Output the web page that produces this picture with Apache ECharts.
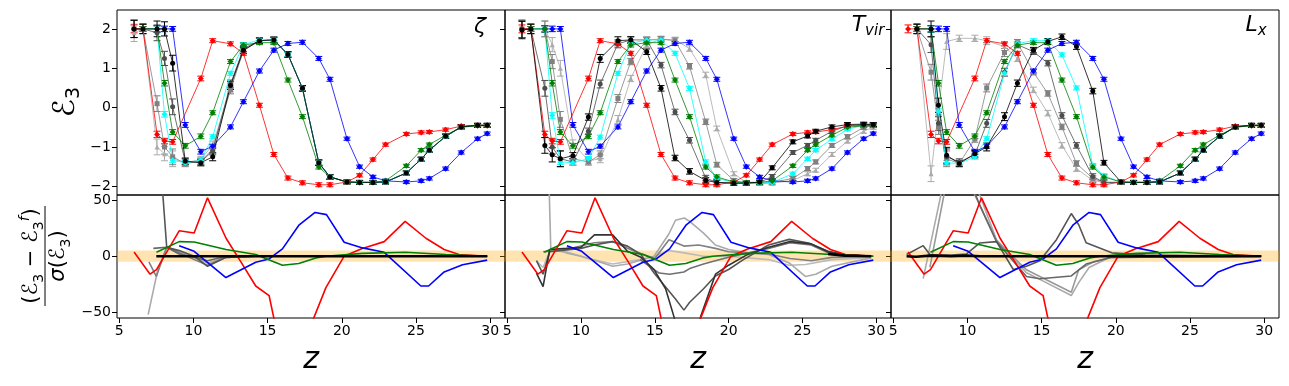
<!DOCTYPE html>
<html>
<head>
<meta charset="utf-8">
<script src="https://cdn.jsdelivr.net/npm/echarts@6/dist/echarts.min.js"></script>
<style>
html,body{margin:0;padding:0;background:#fff}
#chart{width:1289px;height:386px}
</style>
</head>
<body>
<div id="chart"></div>
<script>
// redshift grid of the top panels
var Z = [6.0, 6.6, 7.55, 8.05, 8.6, 9.45, 10.5, 11.3, 12.5, 13.37, 14.45, 15.42, 16.37, 17.35,
         18.45, 19.2, 20.35, 21.2, 22.1, 22.95, 24.35, 25.35, 25.9, 27.0, 28.05, 29.15, 29.8];

var X_TICKS = [5, 10, 15, 20, 25, 30];
var TOP_TICKS = [-2, -1, 0, 1, 2];
var BOT_TICKS = [-50, 0, 50];
var BAND = [-5, 5];

// error bars
var ERR_C = [0.1, 0.06, 0.08, 0.07, 0.06, 0.06, 0.06, 0.05, 0.05, 0.05, 0.05, 0.05, 0.05, 0.05,
             0.05, 0.05, 0.04, 0.04, 0.04, 0.04, 0.04, 0.04, 0.04, 0.04, 0.04, 0.04, 0.04];
var ERR_G = [0.22, 0.12, 0.2, 0.18, 0.2, 0.08, 0.08, 0.1, 0.1, 0.08, 0.07, 0.07, 0.07, 0.07,
             0.07, 0.06, 0.05, 0.05, 0.05, 0.05, 0.05, 0.05, 0.05, 0.05, 0.05, 0.05, 0.05];

// curves shared by the three panels
var RED = [2, 2, -0.68, -0.85, -0.87, null, 0.74, 1.7, 1.62, 1.38, 0.06, -1.19, -1.79, -1.91,
           -1.96, -1.96, -1.89, -1.72, -1.32, -0.94, -0.67, -0.63, -0.62, -0.56, -0.47, -0.45, -0.45];
var BLUE = [null, null, 2, 2, 2, -0.44, -1.12, -0.98, -0.49, 0.15, 0.93, 1.46, 1.63, 1.66,
            1.25, 0.72, -0.79, -1.5, -1.76, -1.86, -1.89, -1.86, -1.8, -1.55, -1.14, -0.79, -0.66];
var GREEN = [null, 2, 2, 0.62, -0.62, -0.97, -0.73, -0.13, 1.17, 1.59, 1.65, 1.65, 0.7, -0.23,
             -1.51, -1.76, -1.89, -1.9, -1.9, -1.86, -1.48, -1.08, -0.94, -0.7, -0.5, -0.46, -0.46];

// zeta panel
var BLACK1 = [2, 2, 2, 2, 1.13, -1.36, -1.4, -1.25, 0.56, 1.46, 1.7, 1.72, 1.35, 0.49,
              -1.4, -1.76, -1.89, -1.9, -1.9, -1.89, -1.66, -1.31, -1.08, -0.73, -0.49, -0.45, -0.45];
var CYAN1 = [null, 2, 2, -0.17, -1.34, -1.4, -1.34, -0.74, 0.87, 1.6, 1.72, 1.72, 1.35, 0.49,
             -1.4, -1.76, -1.89, -1.9, -1.9, -1.89, -1.66, -1.31, -1.08, -0.73, -0.49, -0.45, -0.45];
var DIM1 = [2, 2, 1.9, 1.25, 0.02, -1.38, -1.38, -1.1, 0.6, 1.5, 1.7, 1.72, 1.35, 0.49,
            -1.4, -1.76, -1.89, -1.9, -1.9, -1.89, -1.66, -1.31, -1.08, -0.73, -0.49, -0.45, -0.45];
var GRAY1 = [2, 2, 0.1, -1.0, -1.25, -1.42, -1.36, -1.05, 0.45, 1.45, 1.7, 1.72, 1.35, 0.49,
             -1.4, -1.76, -1.89, -1.9, -1.9, -1.89, -1.66, -1.31, -1.08, -0.73, -0.49, -0.45, -0.45];
var LIGHT1 = [1.9, 2, -1.0, -1.17, -1.3, -1.4, -1.32, -0.95, 0.5, 1.45, 1.7, 1.72, 1.35, 0.49,
              -1.4, -1.76, -1.89, -1.9, -1.9, -1.89, -1.66, -1.31, -1.08, -0.73, -0.49, -0.45, -0.45];

// T_vir panel
var BLACK2 = [1.97, 2, -0.96, -1.2, -1.3, -1.22, -0.24, 1.25, 1.7, 1.72, 1.42, 0.49, -1.28, -1.62,
              -1.85, -1.9, -1.92, -1.92, -1.89, -1.53, -0.87, -0.72, -0.6, -0.49, -0.43, -0.42, -0.43];
var DIM2 = [2, 2, 0.49, -1.0, -1.3, -1.38, -0.6, 0.6, 1.62, 1.72, 1.72, 1.08, -0.11, -0.83,
            -1.79, -1.9, -1.92, -1.92, -1.9, -1.75, -1.14, -0.96, -0.83, -0.6, -0.46, -0.43, -0.43];
var CYAN2 = [null, 2, 2, -0.2, -1.38, -1.4, -1.3, -0.75, 0.87, 1.63, 1.72, 1.72, 1.38, 0.49,
             -1.38, -1.8, -1.9, -1.92, -1.92, -1.9, -1.68, -1.3, -1.08, -0.8, -0.55, -0.45, -0.44];
var GRAY2 = [2, 2, 2, 1.17, -0.3, -1.3, -1.38, -1.2, 0.23, 1.17, 1.72, 1.74, 1.7, 1.05,
             -0.36, -1.45, -1.85, -1.92, -1.92, -1.9, -1.8, -1.55, -1.38, -0.96, -0.74, -0.5, -0.45];
var LIGHT2 = [2, 2, 2, 1.6, 1.0, -0.9, -1.35, -1.3, -0.3, 0.74, 1.6, 1.74, 1.72, 1.5,
              0.83, -0.53, -1.68, -1.9, -1.92, -1.92, -1.85, -1.68, -1.59, -1.19, -0.85, -0.6, -0.5];

// L_x panel
var BLACK3 = [null, 2, 2, 0.06, -1.21, -1.42, -1.17, -1.0, -0.23, 0.62, 1.46, 1.68, 1.8, 1.55,
              0.42, -1.4, -1.89, -1.9, -1.9, -1.89, -1.66, -1.31, -1.08, -0.73, -0.49, -0.45, -0.45];
var CYAN3 = [null, null, 2, -0.1, -1.4, -1.42, -1.25, -0.79, 0.87, 1.63, 1.7, 1.7, 1.34, 0.5,
             -1.47, -1.73, -1.89, -1.9, -1.9, -1.89, -1.66, -1.31, -1.08, -0.73, -0.49, -0.45, -0.45];
var LIGHT3 = [null, 2, -1.68, -0.06, 1.68, 1.76, 1.76, 1.7, 1.55, 1.25, 0.45, -0.14, -0.96, -1.55,
              -1.85, -1.9, -1.9, -1.9, -1.9, -1.89, -1.66, -1.31, -1.08, -0.73, -0.49, -0.45, -0.45];
var GRAY3 = [null, 2, 0.9, -0.5, -1.3, -1.42, -0.8, 0.5, 1.4, 1.65, 0.9, 0.36, -0.49, -1.42,
             -1.8, -1.9, -1.9, -1.9, -1.9, -1.89, -1.66, -1.31, -1.08, -0.73, -0.49, -0.45, -0.45];
var DIM3 = [null, 2, 1.6, -0.4, -1.25, -1.38, -1.2, -0.4, 0.9, 1.6, 1.42, 1.13, -0.2, -0.96,
            -1.75, -1.9, -1.9, -1.9, -1.9, -1.89, -1.66, -1.31, -1.08, -0.73, -0.49, -0.45, -0.45];

// residuals [z, value], lower panels
var RES_RED = [[6.0,3.8],[7.08,-16],[7.51,-12],[9.04,22.6],[10.05,20.6],[10.95,52],[12.2,16],[13.2,-5],
               [14.2,-26.5],[15.1,-35],[15.5,-60],[16.4,-95],[17.35,-85],[18.14,-54],[18.93,-28],[20.16,0],
               [21.29,6.5],[22.86,13],[24.27,31],[25.67,16],[26.9,6],[27.9,1.5],[29.8,0]];
var RES_BLUE = [[9.04,9.4],[10.05,4.4],[12.19,-19],[14.2,-5.3],[15.1,-2.4],[16.0,6.5],[17.13,28],[18.2,39],
                [18.97,37],[20.16,12.4],[21.4,7.4],[22.86,3.5],[25.33,-26.5],[25.85,-26.5],[26.9,-14],
                [28.14,-7.6],[29.8,-3.5]];
var RES_GREEN = [[7.51,3.5],[9.04,13],[10.05,12.6],[12.2,6],[14.2,1.5],[16.0,-8],[17.1,-6.5],[18.25,-1.5],
                 [18.93,0],[21.4,2.5],[24.3,3.5],[27.0,1.5],[29.8,0]];

var RES1_BLACK = [[7.5,0],[29.8,0]];
var RES1_DIM = [[7.8,80],[8.2,8],[9.04,5],[10.05,0],[10.95,-9],[12.2,-1],[14.2,0],[29.8,0]];
var RES1_LIGHT = [[6.95,-52],[7.6,-12],[8.2,8],[9.04,4],[10.05,-1],[10.95,-6],[12.2,-1],[14.2,0],[29.8,0]];
var RES1_GRAY = [[7.0,-5],[7.5,-18],[8.2,8],[9.04,3],[10.05,-3],[10.95,-8],[12.2,-1],[14.2,0],[29.8,0]];
var RES1_DARK = [[7.3,7],[8.2,8],[9.04,2],[10.05,-1],[10.95,-4],[12.2,0],[29.8,0]];

var RES2_BLACK = [[26.74,2],[27.87,0.5],[29.66,0]];
var RES2_DARK = [[6.98,-15],[7.43,-27],[7.88,6],[9.0,7],[10.0,8],[10.91,19],[12.14,19],[13.15,4.4],[14.06,-1],
                 [14.95,-12],[15.73,-29],[16.3,-54],[16.8,-80],[17.6,-80],[18.1,-54],[19.11,-16],[20.0,-8],
                 [21.2,1],[22.7,8],[24.16,13],[25.6,11],[26.74,4],[27.87,1],[29.66,0]];
var RES2_DIM = [[6.98,-4],[7.43,-16],[7.88,4],[10.0,7],[10.9,10],[12.14,13],[13.15,9],[14.06,1.5],[14.95,-15],
                [16.4,-38],[16.97,-48],[17.36,-41],[18.3,-29],[19.1,-17.6],[20.0,-11.8],[21.0,-3],[22.7,10],
                [24.1,15],[25.4,11.8],[26.74,4.4],[27.87,1.5],[29.66,0]];
var RES2_GRAY = [[7.43,4],[9.0,6],[10.9,12],[12.14,13],[13.5,5],[15.0,-2],[15.96,14.7],[16.97,9],[17.98,10],
                 [19.1,7],[20.0,4],[22.7,2],[24.16,-2],[25.6,-4],[27.0,-1],[29.66,0]];
var RES2_MID = [[14.0,-3],[14.95,-12],[15.3,-15],[16.0,-16],[16.97,-14],[17.36,-11],[18.3,-7],[19.1,-4],
                [20.0,-1],[22.7,7],[24.16,12],[25.6,10],[26.74,3],[27.87,1],[29.66,0]];
var RES2_LIGHT = [[7.8,80],[7.95,7],[9.0,3],[10.0,0],[11.0,-4],[12.14,-9],[13.15,-7],[14.95,0],[15.96,20],
                  [16.4,32],[17.0,34],[17.36,31],[18.3,20.6],[19.1,10],[20.0,6],[21.3,3],[22.7,1.5],
                  [24.1,-6],[25.2,-18],[25.9,-16],[27.0,-9],[29.66,-1.5]];
var RES2_PALE = [[6.98,-4],[7.43,-10],[7.9,5],[9.0,4],[10.5,-2],[12.14,-7],[14.0,-3],[15.0,0],[16.0,5],
                 [17.0,3],[18.3,0],[20.0,0],[22.7,-3],[24.1,-8],[25.2,-7.4],[27.0,-3],[29.66,-1]];

var RES3_BLACK = [[5.9,0],[6.55,-0.5],[7.47,0.5],[8.93,0],[9.94,0.5],[10.84,0],[29.8,0]];
var RES3_DIM = [[5.9,1.5],[7.02,9.4],[7.47,1.5],[8.93,1],[9.94,2],[10.84,11.8],[11.96,13],[13.09,-11.8],
                [13.98,-9],[14.88,-4],[16.0,14.7],[17.0,38],[17.5,28],[18.0,12],[19.73,3],[22.0,1],[29.8,0]];
var RES3_LIGHT = [[7.02,-20],[8.14,50],[8.6,80],[10.0,80],[10.84,54],[11.96,14.7],[13.98,-14.7],[14.88,-20.6],
                  [17.0,-35],[17.5,-23.5],[18.2,-10],[19.73,0],[29.8,0]];
var RES3_GRAY = [[7.47,-10],[8.5,60],[9.5,80],[10.84,45.6],[11.96,14],[13.98,-12],[14.88,-18],[17.0,-32],
                 [17.5,-12],[18.5,-5],[19.73,-1],[29.8,0]];
var RES3_DARK = [[10.4,60],[10.84,45],[11.96,13],[13.98,-18],[14.88,-20],[17.0,-17.6],[18.0,-7],[19.73,-1],[29.8,0]];

var FONT = 'DejaVu Sans';
var XMIN = 4.85, XMAX = 31.0;
var COLS = [[117, 388], [505, 386], [891, 388]];

var myChart = echarts.init(document.getElementById('chart'));

function minus(v) { return v < 0 ? '\u2212' + (-v) : '' + v; }

function errRender(color) {
    return function (params, api) {
        var x = api.value(0), y = api.value(1), e = api.value(2);
        var a = api.coord([x, y + e]), b = api.coord([x, y - e]);
        var w = 3.5, st = {stroke: color, lineWidth: 1};
        return {type: 'group', children: [
            {type: 'line', shape: {x1: a[0], y1: a[1], x2: b[0], y2: b[1]}, style: st},
            {type: 'line', shape: {x1: a[0] - w, y1: a[1], x2: a[0] + w, y2: a[1]}, style: st},
            {type: 'line', shape: {x1: b[0] - w, y1: b[1], x2: b[0] + w, y2: b[1]}, style: st}
        ]};
    };
}

var grid = [], xAxis = [], yAxis = [], series = [];
for (var c = 0; c < 3; c++) {
    grid.push({left: COLS[c][0], width: COLS[c][1], top: 10, height: 185, show: true,
               borderColor: '#000', borderWidth: 1, backgroundColor: 'transparent'});
}
for (var c = 0; c < 3; c++) {
    grid.push({left: COLS[c][0], width: COLS[c][1], top: 195, height: 123, show: true,
               borderColor: '#000', borderWidth: 1, backgroundColor: 'transparent'});
}
for (var i = 0; i < 6; i++) {
    var bottom = i >= 3;
    xAxis.push({type: 'value', gridIndex: i, min: XMIN, max: XMAX, position: 'bottom',
        axisLine: {show: false, onZero: false}, splitLine: {show: false},
        axisTick: {show: bottom, customValues: X_TICKS, length: 5, lineStyle: {color: '#000'}},
        axisLabel: {show: bottom, customValues: X_TICKS, color: '#000', fontSize: 14,
                    fontFamily: FONT, margin: 6}});
    yAxis.push({type: 'value', gridIndex: i, position: 'left',
        min: bottom ? -55 : -2.22, max: bottom ? 54.5 : 2.48,
        axisLine: {show: false, onZero: false}, splitLine: {show: false},
        axisTick: {show: true, customValues: bottom ? BOT_TICKS : TOP_TICKS, length: 5,
                   lineStyle: {color: '#000'}},
        axisLabel: {show: i % 3 === 0, customValues: bottom ? BOT_TICKS : TOP_TICKS,
                    color: '#000', fontSize: 14, fontFamily: FONT, margin: 6, formatter: minus}});
}

function addCurve(gi, vals, color, sym, size, errs, lw) {
    var pts = [], bars = [];
    for (var k = 0; k < Z.length; k++) {
        if (vals[k] === null) continue;
        pts.push([Z[k], vals[k]]);
        bars.push([Z[k], vals[k], errs[k]]);
    }
    series.push({type: 'custom', xAxisIndex: gi, yAxisIndex: gi, clip: true, silent: true,
                 encode: {x: 0, y: 1}, data: bars, renderItem: errRender(color)});
    series.push({type: 'line', xAxisIndex: gi, yAxisIndex: gi, data: pts, symbol: sym,
                 symbolSize: size, showSymbol: true, silent: true,
                 lineStyle: {color: color, width: lw || 0.8}, itemStyle: {color: color}});
}

function addRes(gi, pts, color, lw) {
    series.push({type: 'line', xAxisIndex: gi, yAxisIndex: gi, data: pts, showSymbol: false,
                 silent: true, clip: true, lineStyle: {color: color, width: lw || 1.6}});
}

// top panels
var tops = [
    [[LIGHT1, '#aaaaaa', 'triangle'], [GRAY1, '#808080', 'rect'], [DIM1, '#4d4d4d', 'circle'],
     [CYAN1, '#00ffff', 'diamond'], [RED, '#ff0000', 'diamond'], [BLUE, '#0000ff', 'diamond'],
     [GREEN, '#008000', 'diamond'], [BLACK1, '#000000', 'circle']],
    [[LIGHT2, '#aaaaaa', 'triangle'], [GRAY2, '#808080', 'rect'], [DIM2, '#4d4d4d', 'circle'],
     [CYAN2, '#00ffff', 'diamond'], [RED, '#ff0000', 'diamond'], [BLUE, '#0000ff', 'diamond'],
     [GREEN, '#008000', 'diamond'], [BLACK2, '#000000', 'circle']],
    [[LIGHT3, '#aaaaaa', 'triangle'], [GRAY3, '#808080', 'rect'], [DIM3, '#4d4d4d', 'circle'],
     [CYAN3, '#00ffff', 'diamond'], [RED, '#ff0000', 'diamond'], [BLUE, '#0000ff', 'diamond'],
     [GREEN, '#008000', 'diamond'], [BLACK3, '#000000', 'circle']]
];
for (var p = 0; p < 3; p++) {
    tops[p].forEach(function (cv) {
        var grey = cv[2] !== 'diamond';
        addCurve(p, cv[0], cv[1], cv[2], grey ? 5 : 6, grey ? ERR_G : ERR_C);
    });
}

// lower panels: band first
for (var p = 3; p < 6; p++) {
    series.push({type: 'line', xAxisIndex: p, yAxisIndex: p, data: [], showSymbol: false,
                 silent: true, z: 1,
                 markArea: {silent: true, itemStyle: {color: 'rgba(255,165,0,0.3)', borderWidth: 0},
                            data: [[{yAxis: BAND[0]}, {yAxis: BAND[1]}]]}});
}
var bots = [
    [[RES1_LIGHT, '#aaaaaa'], [RES1_GRAY, '#808080'], [RES1_DARK, '#666666'], [RES1_DIM, '#555555']],
    [[RES2_PALE, '#bbbbbb'], [RES2_LIGHT, '#aaaaaa'], [RES2_GRAY, '#808080'], [RES2_MID, '#707070'],
     [RES2_DIM, '#555555'], [RES2_DARK, '#333333']],
    [[RES3_LIGHT, '#aaaaaa'], [RES3_GRAY, '#999999'], [RES3_DARK, '#666666'], [RES3_DIM, '#555555']]
];
var blacks = [RES1_BLACK, RES2_BLACK, RES3_BLACK];
for (var p = 0; p < 3; p++) {
    bots[p].forEach(function (r) { addRes(p + 3, r[0], r[1]); });
    addRes(p + 3, RES_RED, '#ff0000');
    addRes(p + 3, RES_BLUE, '#0000ff');
    addRes(p + 3, RES_GREEN, '#008000');
    addRes(p + 3, blacks[p], '#000000', 2.6);
}

var graphic = [
    {type: 'text', x: 66, y: 102, rotation: Math.PI / 2,
     style: {text: '{e|\u2130}{s|3}', align: 'center', verticalAlign: 'middle',
             rich: {e: {fontSize: 30, fontFamily: FONT, fill: '#000', lineHeight: 36, verticalAlign: 'middle'},
                    s: {fontSize: 19, fontFamily: FONT, fill: '#000', lineHeight: 36, verticalAlign: 'bottom'}}}},
    {type: 'group', x: 45, y: 256, rotation: Math.PI / 2, children: [
        {type: 'text', x: 0, y: -13,
         style: {text: '{t|(\u2130}{s|3}{t| \u2212 \u2130}{s|3}{u|f}{t|)}', align: 'center', verticalAlign: 'middle',
                 rich: {t: {fontSize: 21, fontFamily: FONT, fill: '#000', lineHeight: 28},
                        s: {fontSize: 14, fontFamily: FONT, fill: '#000', lineHeight: 28, verticalAlign: 'bottom'},
                        u: {fontSize: 14, fontFamily: FONT, fontStyle: 'italic', fill: '#000', lineHeight: 28, verticalAlign: 'top'}}}},
        {type: 'line', shape: {x1: -50, y1: 0, x2: 50, y2: 0}, style: {stroke: '#000', lineWidth: 1}},
        {type: 'text', x: 0, y: 14,
         style: {text: '{i|\u03c3}{t|(\u2130}{s|3}{t|)}', align: 'center', verticalAlign: 'middle',
                 rich: {t: {fontSize: 21, fontFamily: FONT, fill: '#000', lineHeight: 28},
                        i: {fontSize: 21, fontFamily: FONT, fontStyle: 'italic', fill: '#000', lineHeight: 28},
                        s: {fontSize: 14, fontFamily: FONT, fill: '#000', lineHeight: 28, verticalAlign: 'bottom'}}}}
    ]},
    {type: 'text', x: 480, y: 27,
     style: {text: '\u03b6', fontSize: 22, fontStyle: 'italic', fontFamily: FONT, fill: '#000',
             align: 'center', verticalAlign: 'middle'}},
    {type: 'text', x: 868, y: 25,
     style: {text: '{t|T}{s|vir}', align: 'center', verticalAlign: 'middle',
             rich: {t: {fontSize: 22, fontStyle: 'italic', fontFamily: FONT, fill: '#000', lineHeight: 28},
                    s: {fontSize: 15, fontStyle: 'italic', fontFamily: FONT, fill: '#000', lineHeight: 28, verticalAlign: 'bottom'}}}},
    {type: 'text', x: 1256, y: 25,
     style: {text: '{t|L}{s|x}', align: 'center', verticalAlign: 'middle',
             rich: {t: {fontSize: 22, fontStyle: 'italic', fontFamily: FONT, fill: '#000', lineHeight: 28},
                    s: {fontSize: 15, fontStyle: 'italic', fontFamily: FONT, fill: '#000', lineHeight: 28, verticalAlign: 'bottom'}}}}
];
[311, 698, 1085].forEach(function (x) {
    graphic.push({type: 'text', x: x, y: 360,
        style: {text: 'z', fontSize: 30, fontStyle: 'italic', fontFamily: FONT, fill: '#000',
                align: 'center', verticalAlign: 'middle'}});
});

option = {
    animation: false,
    backgroundColor: '#fff',
    grid: grid,
    xAxis: xAxis,
    yAxis: yAxis,
    series: series,
    graphic: graphic
};
myChart.setOption(option);
</script>
</body>
</html>
